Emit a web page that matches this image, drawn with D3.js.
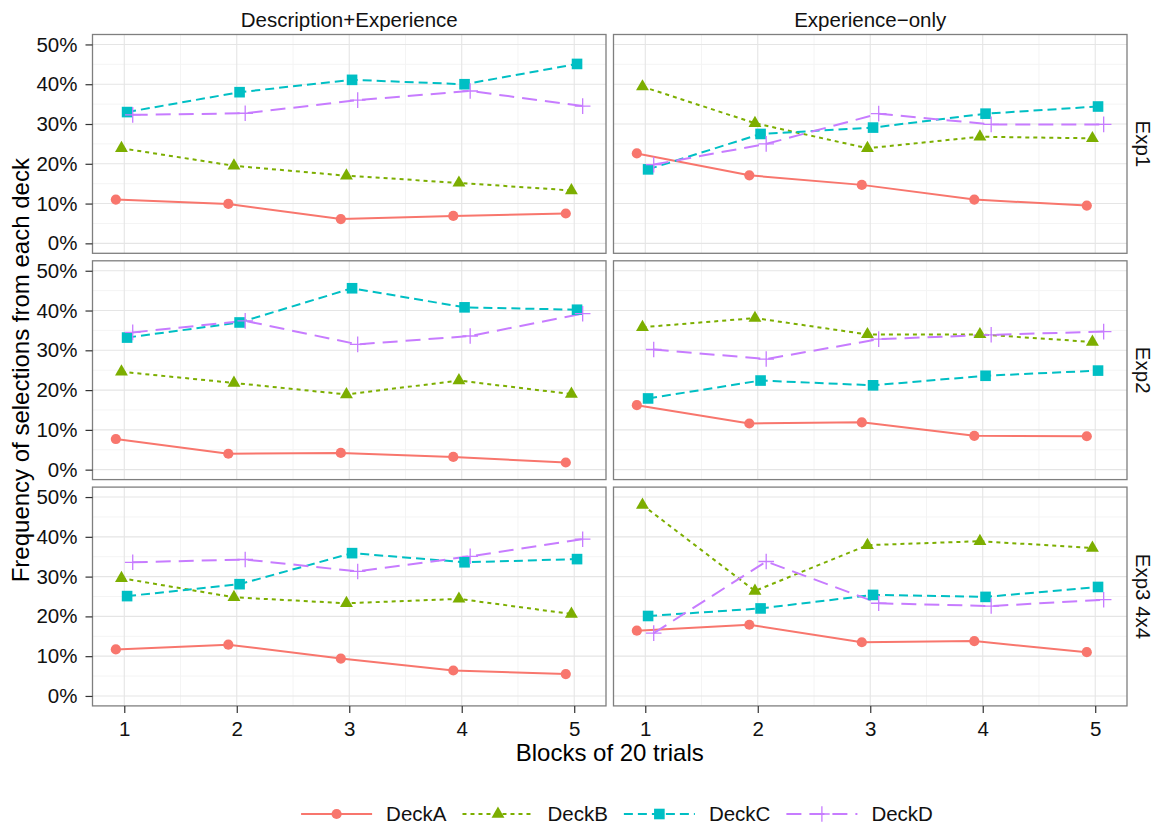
<!DOCTYPE html>
<html><head><meta charset="utf-8">
<script src="https://cdn.jsdelivr.net/npm/d3@7"></script>
<style>body{margin:0;background:#fff} text{font-family:"Liberation Sans",Arial,Helvetica,sans-serif}</style>
</head><body><svg id="chart" width="1157" height="827"></svg>
<script>
// ---- data ----
const blocks = [1, 2, 3, 4, 5];
const decks = ["DeckA", "DeckB", "DeckC", "DeckD"];
const conditions = ["Description+Experience", "Experience\u2212only"];
const experiments = ["Exp1", "Exp2", "Exp3 4x4"];
const yTicks = [0, 10, 20, 30, 40, 50];

// rows: DeckA, DeckB, DeckC, DeckD ; values in percent per block
const exp1DescExp = [
  [11.0, 9.9, 6.1, 6.9, 7.5],
  [23.9, 19.5, 17.0, 15.2, 13.3],
  [33.0, 38.0, 41.1, 40.0, 45.1],
  [32.3, 32.7, 36.0, 38.3, 34.5]
];
const exp1ExpOnly = [
  [22.6, 17.1, 14.7, 11.0, 9.5],
  [39.4, 30.2, 23.9, 26.8, 26.4],
  [18.6, 27.5, 29.1, 32.6, 34.4],
  [19.8, 25.0, 32.6, 29.9, 29.9]
];
const exp2DescExp = [
  [7.7, 4.0, 4.2, 3.2, 1.8],
  [24.6, 21.8, 18.9, 22.4, 19.0],
  [33.2, 37.0, 45.6, 40.8, 40.2],
  [34.5, 37.4, 31.5, 33.6, 39.2]
];
const exp2ExpOnly = [
  [16.2, 11.6, 11.9, 8.5, 8.4],
  [35.8, 38.1, 34.0, 34.0, 32.1],
  [17.9, 22.4, 21.2, 23.6, 24.9],
  [30.2, 27.8, 32.8, 33.9, 34.7]
];
const exp3DescExp = [
  [11.7, 12.9, 9.4, 6.4, 5.5],
  [29.6, 24.8, 23.3, 24.4, 20.6],
  [25.1, 28.1, 35.9, 33.6, 34.4],
  [33.6, 34.3, 31.3, 35.1, 39.4]
];
const exp3ExpOnly = [
  [16.4, 17.9, 13.5, 13.8, 11.0],
  [48.0, 26.4, 37.9, 38.9, 37.2],
  [20.1, 22.0, 25.4, 24.9, 27.4],
  [15.8, 33.8, 23.3, 22.6, 24.2]
];
const panelValues = [
  [exp1DescExp, exp1ExpOnly],
  [exp2DescExp, exp2ExpOnly],
  [exp3DescExp, exp3ExpOnly]
];

// ---- styles ----
const colors = ["#F8766D", "#7CAE00", "#00BFC4", "#C77CFF"];
const dashes = [null, "4,4", "9,5", "15,8"];
const dodge = [-0.075, -0.025, 0.025, 0.075];

const svg = d3.select("#chart");
const leftX = 92.5, topY = 34.5, pw = 513.5, ph = 218.8, gapX = 7.5, gapY = 7.5;

const x = d3.scaleLinear().domain([0.7175, 5.2825]).range([0, pw]);
const y = d3.scaleLinear().domain([-2.5, 52.5]).range([ph, 0]);

function marker(g, k, cx, cy) {
  const c = colors[k];
  if (k === 0) g.append("circle").attr("cx", cx).attr("cy", cy).attr("r", 5.1).attr("fill", c);
  else if (k === 1) g.append("path").attr("transform", `translate(${cx},${cy})`)
      .attr("d", d3.symbol(d3.symbolTriangle, 72)()).attr("fill", c);
  else if (k === 2) g.append("rect").attr("x", cx - 5.3).attr("y", cy - 5.3).attr("width", 10.6).attr("height", 10.6).attr("fill", c);
  else g.append("path").attr("d", `M${cx - 7.8},${cy}H${cx + 7.8}M${cx},${cy - 7.8}V${cy + 7.8}`)
      .attr("stroke", c).attr("stroke-width", 1.3).attr("fill", "none");
}

experiments.forEach((exp, r) => {
  conditions.forEach((cond, c) => {
    const px = leftX + c * (pw + gapX), py = topY + r * (ph + gapY);
    const g = svg.append("g").attr("transform", `translate(${px},${py})`);
    // minor grid
    g.append("g").selectAll("line").data([1.5, 2.5, 3.5, 4.5]).join("line")
      .attr("x1", d => x(d)).attr("x2", d => x(d)).attr("y1", 0).attr("y2", ph)
      .attr("stroke", "#f4f4f4").attr("stroke-width", 1);
    g.append("g").selectAll("line").data([5, 15, 25, 35, 45]).join("line")
      .attr("y1", d => y(d)).attr("y2", d => y(d)).attr("x1", 0).attr("x2", pw)
      .attr("stroke", "#f4f4f4").attr("stroke-width", 1);
    // major grid
    g.append("g").selectAll("line").data(blocks).join("line")
      .attr("x1", d => x(d)).attr("x2", d => x(d)).attr("y1", 0).attr("y2", ph)
      .attr("stroke", "#e5e5e5").attr("stroke-width", 1.1);
    g.append("g").selectAll("line").data(yTicks).join("line")
      .attr("y1", d => y(d)).attr("y2", d => y(d)).attr("x1", 0).attr("x2", pw)
      .attr("stroke", "#e5e5e5").attr("stroke-width", 1.1);

    const vals = panelValues[r][c];
    // lines
    vals.forEach((series, k) => {
      const line = d3.line().x((v, i) => x(blocks[i] + dodge[k])).y(v => y(v));
      g.append("path").attr("d", line(series)).attr("fill", "none")
        .attr("stroke", colors[k]).attr("stroke-width", 2)
        .attr("stroke-dasharray", dashes[k]);
    });
    // points
    vals.forEach((series, k) => {
      series.forEach((v, i) => marker(g, k, x(blocks[i] + dodge[k]), y(v)));
    });
    // border
    g.append("rect").attr("width", pw).attr("height", ph).attr("fill", "none")
      .attr("stroke", "#7f7f7f").attr("stroke-width", 1.3);

    // axes
    if (c === 0) {
      const ax = g.append("g").call(d3.axisLeft(y).tickValues(yTicks).tickFormat(d => d + "%").tickSize(7).tickPadding(8));
      ax.select(".domain").remove();
      ax.selectAll("line").attr("stroke", "#333").attr("stroke-width", 1.2);
      ax.selectAll("text").attr("font-size", 20.5).attr("fill", "#111").attr("font-family", "Liberation Sans, Arial, sans-serif");
    }
    if (r === experiments.length - 1) {
      const ax = g.append("g").attr("transform", `translate(0,${ph})`)
        .call(d3.axisBottom(x).tickValues(blocks).tickFormat(d3.format("d")).tickSize(7).tickPadding(9));
      ax.select(".domain").remove();
      ax.selectAll("line").attr("stroke", "#333").attr("stroke-width", 1.2);
      ax.selectAll("text").attr("font-size", 20.5).attr("fill", "#111").attr("font-family", "Liberation Sans, Arial, sans-serif");
    }
    // strips
    if (r === 0) {
      g.append("text").attr("x", pw / 2).attr("y", -7.5).attr("text-anchor", "middle")
        .attr("font-size", 20.5).attr("fill", "#111").text(cond);
    }
    if (c === conditions.length - 1) {
      g.append("text").attr("transform", `translate(${pw + 16},${ph / 2}) rotate(90)`)
        .attr("text-anchor", "middle").attr("dy", "0.35em")
        .attr("font-size", 20.5).attr("fill", "#111").text(exp);
    }
  });
});

// axis titles
const plotW = 2 * pw + gapX, plotH = 3 * ph + 2 * gapY;
svg.append("text").attr("x", leftX + plotW / 2).attr("y", 761).attr("text-anchor", "middle")
  .attr("font-size", 24).attr("fill", "#000").text("Blocks of 20 trials");
svg.append("text").attr("transform", `translate(29,${topY + plotH / 2}) rotate(-90)`)
  .attr("text-anchor", "middle").attr("font-size", 24).attr("fill", "#000")
  .text("Frequency of selections from each deck");

// legend
const legY = 814, keyW = 71, keyGap = 14, itemGap = 16;
const leg = svg.append("g");
const items = decks.map((d, k) => {
  const t = leg.append("text").attr("font-size", 20.5).attr("fill", "#111").attr("dy", "0.35em").text(d);
  return { k, t, w: t.node().getComputedTextLength() };
});
const totalW = d3.sum(items, it => keyW + keyGap + it.w) + itemGap * (items.length - 1);
let lx = 617 - totalW / 2;
items.forEach(it => {
  const k = it.k;
  leg.append("line").attr("x1", lx).attr("x2", lx + keyW).attr("y1", legY).attr("y2", legY)
    .attr("stroke", colors[k]).attr("stroke-width", 2).attr("stroke-dasharray", dashes[k]);
  marker(leg, k, lx + keyW / 2, legY);
  it.t.attr("x", lx + keyW + keyGap).attr("y", legY);
  lx += keyW + keyGap + it.w + itemGap;
});
</script></body></html>
